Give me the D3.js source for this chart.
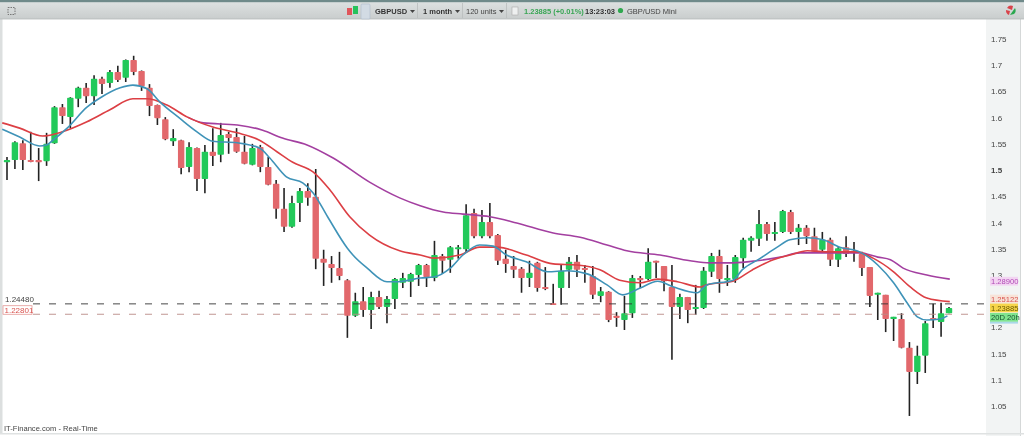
<!DOCTYPE html>
<html><head><meta charset="utf-8">
<script src="https://cdnjs.cloudflare.com/ajax/libs/d3/7.8.5/d3.min.js"></script>
<style>html,body{margin:0;padding:0;background:#fff;overflow:hidden}svg{display:block;filter:blur(.5px)}text{font-family:"Liberation Sans",Arial,sans-serif}</style>
</head><body><svg id="c" width="1024" height="436"></svg>
<script>
const open_=[1.515,1.519,1.551,1.519,1.519,1.517,1.551,1.620,1.601,1.636,1.657,1.641,1.674,1.666,1.687,1.676,1.710,1.689,1.657,1.624,1.597,1.555,1.557,1.506,1.542,1.483,1.535,1.529,1.569,1.563,1.535,1.510,1.544,1.506,1.474,1.426,1.392,1.437,1.460,1.449,1.331,1.321,1.313,1.290,1.222,1.250,1.233,1.258,1.239,1.254,1.285,1.287,1.300,1.319,1.294,1.336,1.329,1.349,1.349,1.418,1.374,1.401,1.376,1.331,1.317,1.312,1.294,1.323,1.277,1.246,1.275,1.310,1.325,1.313,1.298,1.260,1.268,1.222,1.214,1.227,1.294,1.292,1.327,1.317,1.277,1.239,1.258,1.235,1.237,1.306,1.336,1.290,1.292,1.332,1.365,1.369,1.397,1.378,1.382,1.420,1.382,1.390,1.374,1.348,1.367,1.329,1.353,1.346,1.340,1.315,1.262,1.262,1.216,1.216,1.161,1.115,1.146,1.218,1.210,1.227];
const high_=[1.525,1.555,1.557,1.573,1.542,1.571,1.622,1.626,1.639,1.659,1.666,1.681,1.678,1.691,1.699,1.711,1.718,1.690,1.664,1.625,1.601,1.578,1.558,1.553,1.543,1.548,1.580,1.590,1.573,1.580,1.565,1.550,1.548,1.525,1.481,1.466,1.451,1.466,1.475,1.502,1.348,1.336,1.344,1.292,1.266,1.277,1.268,1.270,1.260,1.294,1.304,1.304,1.321,1.321,1.365,1.340,1.355,1.357,1.435,1.426,1.424,1.437,1.378,1.348,1.336,1.315,1.327,1.325,1.315,1.283,1.319,1.334,1.338,1.319,1.317,1.277,1.269,1.229,1.260,1.300,1.298,1.351,1.327,1.317,1.319,1.264,1.258,1.281,1.315,1.342,1.348,1.319,1.338,1.371,1.374,1.424,1.401,1.401,1.424,1.424,1.397,1.395,1.390,1.382,1.371,1.353,1.374,1.363,1.344,1.315,1.266,1.262,1.220,1.227,1.172,1.165,1.212,1.245,1.247,1.239];
const low_=[1.481,1.502,1.500,1.515,1.479,1.508,1.550,1.588,1.580,1.620,1.628,1.624,1.645,1.657,1.668,1.668,1.681,1.651,1.603,1.586,1.557,1.546,1.492,1.496,1.460,1.456,1.508,1.515,1.531,1.533,1.511,1.509,1.496,1.471,1.407,1.382,1.390,1.401,1.432,1.311,1.279,1.285,1.290,1.180,1.220,1.220,1.197,1.235,1.208,1.235,1.275,1.258,1.279,1.277,1.288,1.302,1.304,1.331,1.342,1.370,1.370,1.370,1.319,1.304,1.294,1.266,1.277,1.268,1.271,1.243,1.243,1.275,1.296,1.285,1.254,1.248,1.210,1.201,1.195,1.218,1.275,1.290,1.294,1.269,1.138,1.216,1.208,1.224,1.235,1.296,1.266,1.279,1.285,1.313,1.344,1.355,1.365,1.365,1.380,1.378,1.357,1.359,1.342,1.342,1.317,1.315,1.334,1.325,1.298,1.239,1.214,1.191,1.174,1.160,1.031,1.092,1.113,1.199,1.182,1.227];
const close_=[1.519,1.553,1.519,1.517,1.515,1.550,1.620,1.603,1.638,1.657,1.641,1.674,1.664,1.687,1.672,1.710,1.687,1.660,1.622,1.599,1.559,1.561,1.504,1.544,1.483,1.535,1.527,1.567,1.561,1.535,1.512,1.542,1.506,1.472,1.426,1.392,1.437,1.460,1.447,1.331,1.323,1.313,1.298,1.222,1.250,1.233,1.258,1.239,1.254,1.292,1.294,1.302,1.319,1.296,1.338,1.327,1.353,1.353,1.414,1.374,1.401,1.374,1.327,1.321,1.310,1.294,1.304,1.275,1.273,1.244,1.308,1.325,1.310,1.310,1.262,1.269,1.214,1.218,1.227,1.294,1.290,1.325,1.323,1.288,1.239,1.258,1.233,1.239,1.308,1.336,1.292,1.294,1.334,1.367,1.371,1.397,1.378,1.382,1.422,1.382,1.390,1.374,1.344,1.367,1.329,1.351,1.340,1.344,1.313,1.260,1.266,1.216,1.220,1.161,1.115,1.146,1.208,1.214,1.227,1.237];

const blueIdx=[-0.6,1.6,4.1,5,5.8,7.6,10.1,11.8,14.3,15.9,17.7,19.3,21.8,24,26,29.1,31.9,33.2,35.3,37.4,38.7,40.5,43,43.7,45.5,48,49,50,52.2,53.9,56,57.6,59.7,61.4,63.1,65.6,68.3,70.8,73.3,75.8,77.8,80,82.2,84.2,87.2,88.4,91.7,92.9,95.1,97.3,98.9,101.1,103.1,105.2,107.7,110,112,113.7,115,116.2,117.9,118.8];
const blueVal=[1.578,1.563,1.546,1.548,1.557,1.580,1.620,1.638,1.657,1.662,1.655,1.630,1.599,1.573,1.555,1.552,1.542,1.523,1.487,1.475,1.456,1.411,1.351,1.338,1.313,1.287,1.287,1.288,1.294,1.296,1.313,1.338,1.357,1.355,1.338,1.325,1.306,1.308,1.302,1.281,1.262,1.275,1.288,1.277,1.266,1.281,1.290,1.310,1.331,1.353,1.367,1.371,1.367,1.353,1.344,1.319,1.285,1.247,1.220,1.214,1.216,1.222];
const redIdx=[-0.6,1.6,4.5,7,10.1,13,15.9,17.7,20.2,22.8,26,29.1,31.9,34.1,36.1,38.7,40.8,43.3,45.8,49.6,52.2,53.9,57.2,59.7,61.9,65.6,69,72,74.9,77.4,80,82.2,84.7,87.6,88.4,91.7,94.2,96.8,98.9,101.1,104,107.4,109.4,112,114.1,116.2,119.1];
const redVal=[1.590,1.580,1.565,1.573,1.592,1.615,1.636,1.636,1.624,1.601,1.582,1.571,1.557,1.535,1.515,1.496,1.462,1.411,1.376,1.346,1.338,1.332,1.338,1.353,1.353,1.338,1.321,1.319,1.310,1.290,1.285,1.292,1.287,1.277,1.281,1.288,1.310,1.329,1.338,1.346,1.344,1.344,1.332,1.306,1.277,1.256,1.249];
const purpleIdx=[22.8,24.8,29.1,32.3,34.8,37.9,41.2,45.8,49.6,52.2,55.1,57.6,61,64.4,69,72.4,75.8,78.3,82.5,86.3,88.8,91.7,94.7,97.7,100.2,104,107.7,110,111.6,113.2,116.2,119.1];
const purpleVal=[1.601,1.590,1.586,1.576,1.561,1.548,1.523,1.477,1.447,1.432,1.420,1.416,1.411,1.399,1.380,1.372,1.357,1.346,1.338,1.327,1.323,1.323,1.327,1.334,1.342,1.342,1.342,1.334,1.329,1.313,1.300,1.292];

const tickVals=[1.75,1.7,1.65,1.6,1.55,1.5,1.45,1.4,1.35,1.3,1.2,1.15,1.1,1.05];
const tickLabels=["1.75","1.7","1.65","1.6","1.55","1.5","1.45","1.4","1.35","1.3","1.2","1.15","1.1","1.05"];
const levelHi=1.2448, levelLo=1.2250;
const levelHiText="1.24480", levelLoText="1.22801";
const tags=[
 {v:1.2880,t:"1.28900",fg:"#b04bb5",bg:"#f3d4f2"},
 {v:1.2540,t:"1.25122",fg:"#d9534f",bg:"#f8e3d8"},
 {v:1.2370,t:"1.23885",fg:"#6a5a00",bg:"#f6d54a"},
 {v:1.2190,t:"20D 20h",fg:"#14532d",bg:"#7fe38f"}
];
const toolbar=[
 {x:375,t:"GBPUSD",w:"bold",c:"#333"},{x:423,t:"1 month",w:"bold",c:"#333"},{x:466,t:"120 units",w:"normal",c:"#444"},
 {x:524,t:"1.23885 (+0.01%)",w:"bold",c:"#3aa655"},{x:585,t:"13:23:03",w:"bold",c:"#333"},{x:627,t:"GBP/USD Mini",w:"normal",c:"#444"}
];
const carets=[410,455,499];
const seps=[417,462,506];

const svg=d3.select("#c");
const x=d3.scaleLinear().domain([0,119]).range([7,949]);
const y=d3.scaleLinear().domain([1.05,1.75]).range([406,39]);
const defs=svg.append("defs");
const g=defs.append("linearGradient").attr("id","tb").attr("x1",0).attr("x2",0).attr("y1",0).attr("y2",1);
g.append("stop").attr("offset",0).attr("stop-color","#dfe3e3");
g.append("stop").attr("offset",1).attr("stop-color","#c9cdcd");

svg.append("rect").attr("width",1024).attr("height",436).attr("fill","#fff");
svg.append("rect").attr("x",986).attr("y",19).attr("width",34).attr("height",417).attr("fill","#f2f4f4");
svg.append("rect").attr("x",1020).attr("y",0).attr("width",1).attr("height",436).attr("fill","#d5d8d8");
svg.append("rect").attr("x",0).attr("y",19).attr("width",2.5).attr("height",414).attr("fill","#dcdfdf");
svg.append("rect").attr("x",0).attr("y",433).attr("width",1024).attr("height",1.5).attr("fill","#dfe2e2");
svg.append("rect").attr("width",1024).attr("height",19).attr("fill","url(#tb)");
svg.append("rect").attr("width",1024).attr("height",2.2).attr("fill","#6f8a8a");
svg.append("rect").attr("y",18.6).attr("width",1024).attr("height",.8).attr("fill","#b4b8b8");
svg.selectAll("rect.sep").data(seps).join("rect").attr("class","sep").attr("x",d=>d).attr("y",3).attr("width",.8).attr("height",15).attr("fill","#b9bdbd");
svg.append("rect").attr("x",8).attr("y",7.5).attr("width",7).attr("height",7).attr("fill","none").attr("stroke","#777").attr("stroke-dasharray","1.5,1");
svg.append("rect").attr("x",347).attr("y",8).attr("width",5).attr("height",7).attr("fill","#e0565b");
svg.append("rect").attr("x",353).attr("y",6).attr("width",5).attr("height",8).attr("fill","#27c25c");
svg.append("rect").attr("x",361).attr("y",4).attr("width",9).attr("height",15).attr("rx",1).attr("fill","#d2dbe4").attr("stroke","#aebccb").attr("stroke-width",.6);
svg.append("rect").attr("x",512).attr("y",7).attr("width",6).attr("height",8).attr("fill","#eef0f0").attr("stroke","#aaa").attr("stroke-width",.6);
svg.selectAll("text.tb").data(toolbar).join("text").attr("class","tb")
 .attr("x",d=>d.x).attr("y",13.5).attr("font-size",7.5).attr("font-weight",d=>d.w).attr("fill",d=>d.c).text(d=>d.t);
svg.selectAll("path.car").data(carets).join("path").attr("class","car")
 .attr("transform",d=>`translate(${d},10)`).attr("d","M0,0h5l-2.5,3z").attr("fill","#444");
svg.append("circle").attr("cx",620.5).attr("cy",10.5).attr("r",2.6).attr("fill","#2fa84f");
svg.append("path").attr("d","M1007,8a5,5 0 0 1 6,-2l-1,4z").attr("fill","#d9434a");
svg.append("path").attr("d","M1015,8a5,5 0 0 1 -1,6l-4,1z").attr("fill","#2aa84f");
svg.append("path").attr("d","M1006,10a5,5 0 0 0 3,5l1,-4z").attr("fill","#d9434a");

const axis=d3.axisRight(y).tickValues(tickVals).tickSize(0).tickPadding(0)
 .tickFormat((d,i)=>tickLabels[i]);
const ag=svg.append("g").attr("transform","translate(991,0)").call(axis);
ag.select(".domain").remove();
ag.selectAll("text").attr("font-size",8).attr("fill","#444").attr("font-weight",d=>d===1.5?"bold":"normal")
 .style("font-family",'"Liberation Sans",Arial,sans-serif');

const idx=d3.range(open_.length);
const cg=svg.append("g");
cg.selectAll("line").data(idx).join("line")
 .attr("x1",i=>x(i)).attr("x2",i=>x(i)).attr("y1",i=>y(high_[i])).attr("y2",i=>y(low_[i]))
 .attr("stroke","#222").attr("stroke-width",1.6);
cg.selectAll("rect").data(idx).join("rect")
 .attr("x",i=>x(i)-3.2).attr("width",6.4).attr("rx",.8)
 .attr("y",i=>Math.min(y(open_[i]),y(close_[i])))
 .attr("height",i=>Math.max(1.8,Math.abs(y(open_[i])-y(close_[i]))))
 .attr("fill",i=>close_[i]>=open_[i]?"#22c95a":"#e2686c");

const line=d3.line().curve(d3.curveMonotoneX);
function ma(ix,v,col){
 svg.append("path").attr("d",line(ix.map((k,j)=>[x(k),y(v[j])]))).attr("fill","none").attr("stroke",col).attr("stroke-width",1.6);
}
ma(purpleIdx,purpleVal,"#a33fa0");
ma(redIdx,redVal,"#dc3f44");
ma(blueIdx,blueVal,"#3f93b8");

svg.append("line").attr("x1",33).attr("x2",990).attr("y1",y(levelHi)).attr("y2",y(levelHi)).attr("stroke","#333").attr("stroke-dasharray","7,9").attr("stroke-width",.9);
svg.append("line").attr("x1",33).attr("x2",990).attr("y1",y(levelLo)).attr("y2",y(levelLo)).attr("stroke","#b98a86").attr("stroke-dasharray","7,9").attr("stroke-width",.9);
svg.append("text").attr("x",5).attr("y",y(levelHi)-1.5).attr("font-size",8).attr("fill","#444").text(levelHiText);
svg.append("rect").attr("x",3).attr("y",y(levelLo)-8.5).attr("width",29).attr("height",8.5).attr("fill","#fff").attr("stroke","#e08a88").attr("stroke-width",.7);
svg.append("text").attr("x",4.5).attr("y",y(levelLo)-1.5).attr("font-size",8).attr("fill","#d9534f").text(levelLoText);

const tg=svg.selectAll("g.tag").data(tags).join("g").attr("class","tag");
tg.append("rect").attr("x",990).attr("y",d=>y(d.v)-4.4).attr("width",28).attr("height",8.8).attr("fill",d=>d.bg);
tg.append("text").attr("x",991).attr("y",d=>y(d.v)+2.8).attr("font-size",7.6).attr("fill",d=>d.fg).text(d=>d.t);
svg.append("rect").attr("x",990).attr("y",y(tags[3].v)+4.4).attr("width",28).attr("height",1.8).attr("fill","#a9d8e8");

svg.append("text").attr("x",4).attr("y",431).attr("font-size",7.6).attr("fill","#444").text("IT-Finance.com - Real-Time");
</script></body></html>
